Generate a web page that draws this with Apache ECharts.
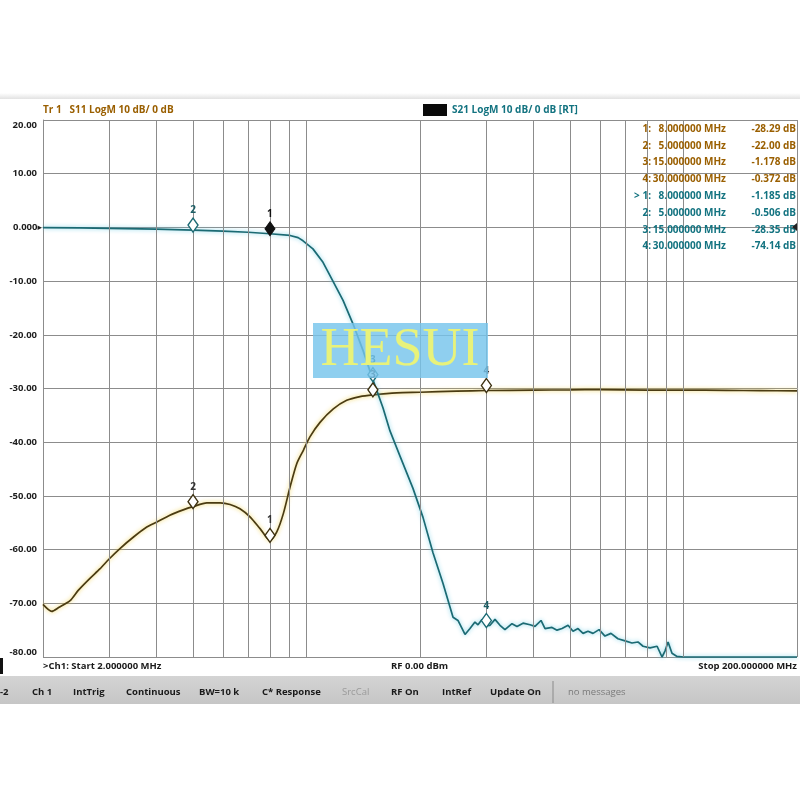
<!DOCTYPE html>
<html><head><meta charset="utf-8">
<script src="https://cdn.jsdelivr.net/npm/echarts@6/dist/echarts.min.js"></script>
<style>html,body{margin:0;padding:0;background:#fff}#c{width:800px;height:800px}</style>
</head><body><div id="c"></div>
<script>
// ---- data (frequencies in MHz, levels in dB) ----
const s21Freq = [2, 2.5, 3, 4, 5, 6, 7, 8, 9.04, 9.5, 9.79, 10.4, 11.06, 11.75, 12.5, 13.29, 14.12, 15, 15.95, 16.65, 17.7, 19.16, 20.37, 21.65, 23.02, 24.47, 25.22, 26.33, 27.14, 27.98, 28.5, 29.2, 30, 30.67, 31.62, 32.6, 33.6, 35.08, 36.17, 37.52, 39.16, 40.37, 41.88, 42.92, 44.79, 46.18, 47.62, 49.4, 50.93, 52.5, 54.14, 55.8, 57.54, 59.7, 61.9, 64.2, 67, 70, 73, 75.7, 78.1, 81.5, 85.1, 87.7, 89.3, 91, 93.2, 96.1, 100, 120, 150, 200];
const s21dB = [-0.05, -0.1, -0.18, -0.33, -0.506, -0.7, -0.9, -1.185, -1.5, -1.9, -2.5, -4, -6.5, -10, -13.6, -18, -22.9, -28.35, -33.6, -37.9, -42.6, -48.6, -54, -60.6, -66.3, -72.6, -73.2, -75.8, -74.7, -73.5, -74, -73, -74.14, -74.1, -73, -74.1, -74.9, -73.8, -74.3, -73.7, -74, -74.3, -73.2, -74.7, -74.5, -75, -74.7, -74.1, -75.2, -74.7, -75.6, -75.2, -75.6, -74.9, -76.1, -75.6, -76.6, -77, -77.4, -77.2, -78, -78.3, -78, -80, -78.9, -77.2, -79.3, -79.9, -80, -80, -80, -80];

const s11Freq = [2, 2.11, 2.2, 2.36, 2.48, 2.66, 2.83, 3.0, 3.2, 3.47, 3.77, 4.0, 4.34, 4.71, 5.0, 5.44, 5.9, 6.27, 6.66, 7.08, 7.53, 8.0, 8.34, 8.68, 9.04, 9.42, 9.81, 10.21, 10.86, 11.78, 12.78, 13.86, 15.0, 17.35, 20, 25, 30, 40, 50, 60, 80, 100, 130, 160, 200];
const s11dB = [-40.2, -41.5, -40.8, -39.5, -37.6, -35.4, -33.6, -31.7, -29.8, -27.7, -25.8, -24.9, -23.6, -22.6, -22.0, -21.3, -21.3, -21.6, -22.4, -23.9, -26.1, -28.29, -26.7, -23.3, -18.4, -14, -11.5, -9, -6.3, -3.8, -2.2, -1.5, -1.178, -0.8, -0.7, -0.5, -0.372, -0.3, -0.25, -0.2, -0.3, -0.3, -0.35, -0.4, -0.45];
const s11RefShift = -30; // S11 trace is displayed 3 divisions lower

const markerIds = [1, 2, 3, 4];
const markerFreq = [8, 5, 15, 30];
const s11MarkerdB = [-28.29, -22.00, -1.178, -0.372];
const s21MarkerdB = [-1.185, -0.506, -28.35, -74.14];

const gridFreqs = [3, 4, 5, 6, 7, 8, 9, 10, 20, 30, 40, 50, 60, 70, 80, 90, 100, 200];
const yTickMin = -80, yTickMax = 20, yTickStep = 10;

const statusItems = ['-2', 'Ch 1', 'IntTrig', 'Continuous', 'BW=10 k', 'C* Response', 'SrcCal', 'RF On', 'IntRef', 'Update On', 'no messages'];

// ---- styles ----
const C_S21 = '#1b6a73', C_S11 = '#4a3b12';
const C_S11_TXT = '#9a5f00', C_S21_TXT = '#137380';
const GRID = '#8c8c8c';
const FONT = '"Open Sans", "Noto Sans", sans-serif';

function fmtVal(v) { return Math.abs(v) < 1 ? v.toFixed(3) : v.toPrecision(4); }

function txt(x, y, text, opt) {
  opt = opt || {};
  const al = opt.align || 'left';
  return {
    type: 'text', x: x, y: y, z: opt.z || 50, silent: true,
    style: {
      text: text, fill: opt.fill || '#1a1a1a',
      font: opt.font || ('bold 10px ' + FONT),
      align: al, textAlign: al, verticalAlign: 'middle', textVerticalAlign: 'middle'
    }
  };
}

const graphics = [];
graphics.push({ type: 'rect', shape: { x: 0, y: 93, width: 800, height: 6 }, style: { fill: new echarts.graphic.LinearGradient(0, 0, 0, 1, [{offset: 0, color: '#ffffff'}, {offset: 1, color: '#e2e2e2'}]) }, silent: true, z: 1 });
graphics.push(txt(43, 110, 'Tr 1   S11 LogM 10 dB/ 0 dB', { fill: C_S11_TXT, font: 'bold 10px ' + FONT }));
graphics.push({ type: 'rect', shape: { x: 423, y: 104, width: 24, height: 12 }, style: { fill: '#0a0a0a' }, silent: true, z: 50 });
graphics.push(txt(452, 110, 'S21 LogM 10 dB/ 0 dB [RT]', { fill: C_S21_TXT, font: 'bold 10px ' + FONT }));

// marker table
const rowY0 = 129, rowStep = 16.8;
const rows = [];
markerIds.forEach((id, i) => rows.push({ id: id + ':', f: markerFreq[i], v: s11MarkerdB[i], c: C_S11_TXT }));
markerIds.forEach((id, i) => rows.push({ id: (i === 0 ? '> ' : '') + id + ':', f: markerFreq[i], v: s21MarkerdB[i], c: C_S21_TXT }));
rows.forEach((r, k) => {
  const y = rowY0 + k * rowStep;
  graphics.push(txt(651, y, r.id, { fill: r.c, align: 'right' }));
  graphics.push(txt(726, y, r.f.toFixed(6) + ' MHz', { fill: r.c, align: 'right' }));
  graphics.push(txt(796, y, fmtVal(r.v) + ' dB', { fill: r.c, align: 'right' }));
});

// footer
graphics.push(txt(43, 666, '>Ch1: Start 2.000000 MHz', { font: 'bold 9.5px ' + FONT }));
graphics.push(txt(391, 666, 'RF 0.00 dBm', { font: 'bold 9.5px ' + FONT }));
graphics.push(txt(797, 666, 'Stop 200.000000 MHz', { font: 'bold 9.5px ' + FONT, align: 'right' }));
graphics.push({ type: 'rect', shape: { x: 0, y: 658, width: 3, height: 16 }, style: { fill: '#111' }, silent: true, z: 50 });

// status bar
graphics.push({ type: 'rect', shape: { x: 0, y: 676, width: 800, height: 28 }, style: { fill: new echarts.graphic.LinearGradient(0, 0, 0, 1, [{offset: 0, color: '#d4d4d4'}, {offset: 1, color: '#c6c6c6'}]) }, silent: true, z: 40 });
const statusX = [0, 32, 73, 126, 199, 262, 342, 391, 442, 490, 568];
statusItems.forEach((s, i) => {
  const grey = (s === 'SrcCal') ? '#9a9a9a' : (s === 'no messages' ? '#7a7a7a' : '#1a1a1a');
  graphics.push(txt(statusX[i], 692, s, { fill: grey, font: (s === 'no messages' || s === 'SrcCal' ? '400 ' : 'bold ') + '9.5px ' + FONT }));
});
graphics.push({ type: 'line', shape: { x1: 553, y1: 681, x2: 553, y2: 703 }, style: { stroke: '#8a8a8a', lineWidth: 1 }, silent: true, z: 50 });

graphics.push({ type: 'polygon', shape: { points: [[797, 223], [797, 231], [792, 227]] }, style: { fill: '#222' }, silent: true, z: 50 });

// watermark
graphics.push({ type: 'rect', shape: { x: 313, y: 323, width: 175, height: 55 }, style: { fill: 'rgba(118,196,236,0.82)' }, silent: true, z: 100 });
graphics.push({ type: 'text', x: 400, y: 351, z: 101, silent: true, style: { text: 'HESUI', fill: '#e8f27a', font: '54px "Liberation Serif", "DejaVu Serif", serif', align: 'center', textAlign: 'center', verticalAlign: 'middle', textVerticalAlign: 'middle' } });

function markerData(vals, shift, color, activeFirst, labelColor) {
  return markerFreq.map((f, i) => {
    const active = activeFirst && i === 0;
    return {
      name: String(markerIds[i]),
      coord: [f, vals[i] + shift],
      symbol: 'diamond', symbolSize: [10, 14], symbolOffset: [0, -5],
      itemStyle: active ? { color: '#111', borderColor: '#111', borderWidth: 1 } : { color: '#ffffff', borderColor: color, borderWidth: 1.4 },
      label: { show: true, position: 'top', distance: 2, formatter: '{b}', color: active ? '#111' : labelColor, fontSize: 10, fontWeight: 'bold', fontFamily: FONT }
    };
  });
}

const chart = echarts.init(document.getElementById('c'), null, { renderer: 'canvas' });
chart.setOption({
  animation: false,
  backgroundColor: '#ffffff',
  grid: { left: 43, top: 120, width: 754, height: 537, containLabel: false },
  xAxis: {
    type: 'log', logBase: 10, min: 2, max: 200,
    axisLine: { show: true, lineStyle: { color: GRID, width: 1 } },
    axisTick: { show: false }, axisLabel: { show: false }, splitLine: { show: false }, minorTick: { show: false }
  },
  yAxis: {
    type: 'value', min: yTickMin, max: yTickMax, interval: yTickStep,
    axisLine: { show: true, lineStyle: { color: GRID, width: 1 } },
    axisTick: { show: false },
    splitLine: { show: true, lineStyle: { color: GRID, width: 1 } },
    axisLabel: {
      margin: 1,
      verticalAlignMaxLabel: 'top', verticalAlignMinLabel: 'bottom',
      formatter: v => v === 0 ? '{z|0.000}{t|▸}' : '{n|' + v.toFixed(2) + '}',
      rich: {
        n: { fontSize: 9.5, fontWeight: 'bold', fontFamily: FONT, color: '#1e1e1e', padding: [0, 5, 0, 0] },
        z: { fontSize: 9.5, fontWeight: 'bold', fontFamily: FONT, color: '#1e1e1e' },
        t: { fontSize: 9, color: '#1e1e1e', fontFamily: '"DejaVu Sans", sans-serif' }
      }
    }
  },
  series: [
    {
      type: 'line', name: 'grid', data: [], z: 1, silent: true,
      markLine: {
        silent: true, symbol: ['none', 'none'], animation: false,
        label: { show: false },
        lineStyle: { color: GRID, width: 1, type: 'solid' },
        emphasis: { disabled: true },
        data: gridFreqs.map(f => ({ xAxis: f }))
      }
    },
    {
      type: 'line', name: 'S11', z: 3, clip: false, showSymbol: false, smooth: 0.25,
      data: s11Freq.map((f, i) => [f, s11dB[i] + s11RefShift]),
      lineStyle: { color: C_S11, width: 1.7, shadowColor: 'rgba(240,205,60,0.9)', shadowBlur: 4 },
      markPoint: { silent: true, data: markerData(s11MarkerdB, s11RefShift, '#3c3010', false, '#333333') }
    },
    {
      type: 'line', name: 'S21', z: 4, clip: false, showSymbol: false, smooth: false,
      data: s21Freq.map((f, i) => [f, s21dB[i]]),
      lineStyle: { color: C_S21, width: 1.7, shadowColor: 'rgba(110,205,230,0.9)', shadowBlur: 4 },
      markPoint: { silent: true, data: markerData(s21MarkerdB, 0, C_S21, true, '#1d5f66') }
    }
  ],
  graphic: { elements: graphics }
});
</script>
</body></html>
